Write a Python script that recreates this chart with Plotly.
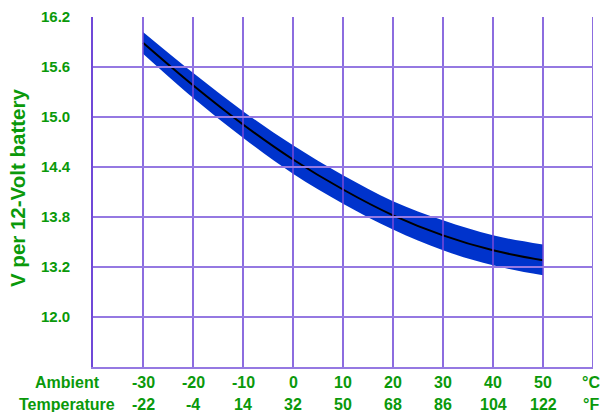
import plotly.graph_objects as go

# ---- data ----
temps_c = [-30, -20, -10, 0, 10, 20, 30, 40, 50]
temps_f = [-22, -4, 14, 32, 50, 68, 86, 104, 122]
v_mid = [15.89, 15.38, 14.91, 14.49, 14.13, 13.82, 13.58, 13.40, 13.28]
v_upper = [16.02, 15.53, 15.07, 14.66, 14.30, 13.99, 13.76, 13.58, 13.47]
v_lower = [15.76, 15.23, 14.75, 14.32, 13.96, 13.65, 13.40, 13.22, 13.10]

y_tickvals = [16.2, 15.6, 15.0, 14.4, 13.8, 13.2, 12.6]
y_ticktext = ["16.2", "15.6", "15.0", "14.4", "13.8", "13.2", "12.0"]
y_grid = [15.6, 15.0, 14.4, 13.8, 13.2, 12.6]
x_grid = [-30, -20, -10, 0, 10, 20, 30, 40, 50, 60]

title_text = "Charging Voltage"
y_title = "V per 12-Volt battery"
row1_label = "Ambient"
row2_label = "Temperature"
unit_c = "\u00b0C"
unit_f = "\u00b0F"

GREEN = "#0a990a"
VGRID = "#7048d8"
HGRID = "#9579e2"
BAND = "#0033cc"
FONT = "Liberation Sans, Arial, sans-serif"


def bold(t):
    return "<b>" + t + "</b>"


fig = go.Figure()
fig.add_trace(go.Scatter(x=temps_c, y=v_lower, mode="lines",
                         line=dict(width=0, shape="spline", color=BAND),
                         hoverinfo="skip", showlegend=False))
fig.add_trace(go.Scatter(x=temps_c, y=v_upper, mode="lines",
                         line=dict(width=0, shape="spline", color=BAND),
                         fill="tonexty", fillcolor=BAND,
                         hoverinfo="skip", showlegend=False))
fig.add_trace(go.Scatter(x=temps_c, y=v_mid, mode="lines",
                         line=dict(width=2, shape="spline", color="black"),
                         showlegend=False))

# grid lines drawn above the band, as in the reference
shapes = []
for xv in x_grid:
    shapes.append(dict(type="line", xref="x", yref="paper", x0=xv, x1=xv, y0=0, y1=1,
                       line=dict(color=VGRID, width=1.6), layer="above"))
for yv in y_grid:
    shapes.append(dict(type="line", xref="paper", yref="y", x0=0, x1=1, y0=yv, y1=yv,
                       line=dict(color=HGRID, width=2), layer="above"))

lab_font = dict(family=FONT, size=16, color=GREEN)
annotations = []
for c, f in zip(temps_c, temps_f):
    annotations.append(dict(x=c, xref="x", y=0, yref="paper", yshift=-15,
                            text=bold(str(c)), showarrow=False, yanchor="middle",
                            font=lab_font))
    annotations.append(dict(x=c, xref="x", y=0, yref="paper", yshift=-37,
                            text=bold(str(f)), showarrow=False, yanchor="middle",
                            font=lab_font))
annotations.append(dict(x=60, xref="x", y=0, yref="paper", yshift=-15, xshift=-2,
                        text=bold(unit_c), showarrow=False, yanchor="middle",
                        font=lab_font))
annotations.append(dict(x=60, xref="x", y=0, yref="paper", yshift=-37, xshift=-2,
                        text=bold(unit_f), showarrow=False, yanchor="middle",
                        font=lab_font))
annotations.append(dict(x=-40, xref="x", y=0, yref="paper", yshift=-15, xshift=-26,
                        text=bold(row1_label), showarrow=False, yanchor="middle",
                        font=lab_font))
annotations.append(dict(x=-40, xref="x", y=0, yref="paper", yshift=-37, xshift=-26,
                        text=bold(row2_label), showarrow=False, yanchor="middle",
                        font=lab_font))
annotations.append(dict(x=0, xref="paper", y=0.5, yref="paper", xshift=-76, yshift=4,
                        text=bold(y_title), textangle=-90, showarrow=False,
                        xanchor="center", yanchor="middle",
                        font=dict(family=FONT, size=20.5, color=GREEN)))
annotations.append(dict(x=0.6, xref="paper", y=1, yref="paper", yshift=14.5,
                        text=bold(title_text), showarrow=False, yanchor="bottom",
                        font=dict(family=FONT, size=27, color=GREEN)))

fig.update_layout(
    width=602, height=412,
    margin=dict(l=93, r=9, t=17, b=45),
    paper_bgcolor="white", plot_bgcolor="white",
    font=dict(family=FONT, color=GREEN),
    annotations=annotations,
    shapes=shapes,
    xaxis=dict(range=[-40, 60], showticklabels=False, ticks="", showgrid=False,
               showline=True, linecolor=HGRID, linewidth=2, zeroline=False,
               layer="above traces", fixedrange=True),
    yaxis=dict(range=[12.0, 16.2], tickvals=y_tickvals,
               ticktext=[bold(t) for t in y_ticktext],
               ticks="", ticklabelstandoff=18, showgrid=False,
               tickfont=dict(family=FONT, size=15, color=GREEN),
               showline=True, linecolor=VGRID, linewidth=1.6, zeroline=False,
               layer="above traces", fixedrange=True),
)

fig.write_html("out.html", config={"displayModeBar": False},
               post_script="document.body.style.margin='0';document.body.style.padding='0';")
